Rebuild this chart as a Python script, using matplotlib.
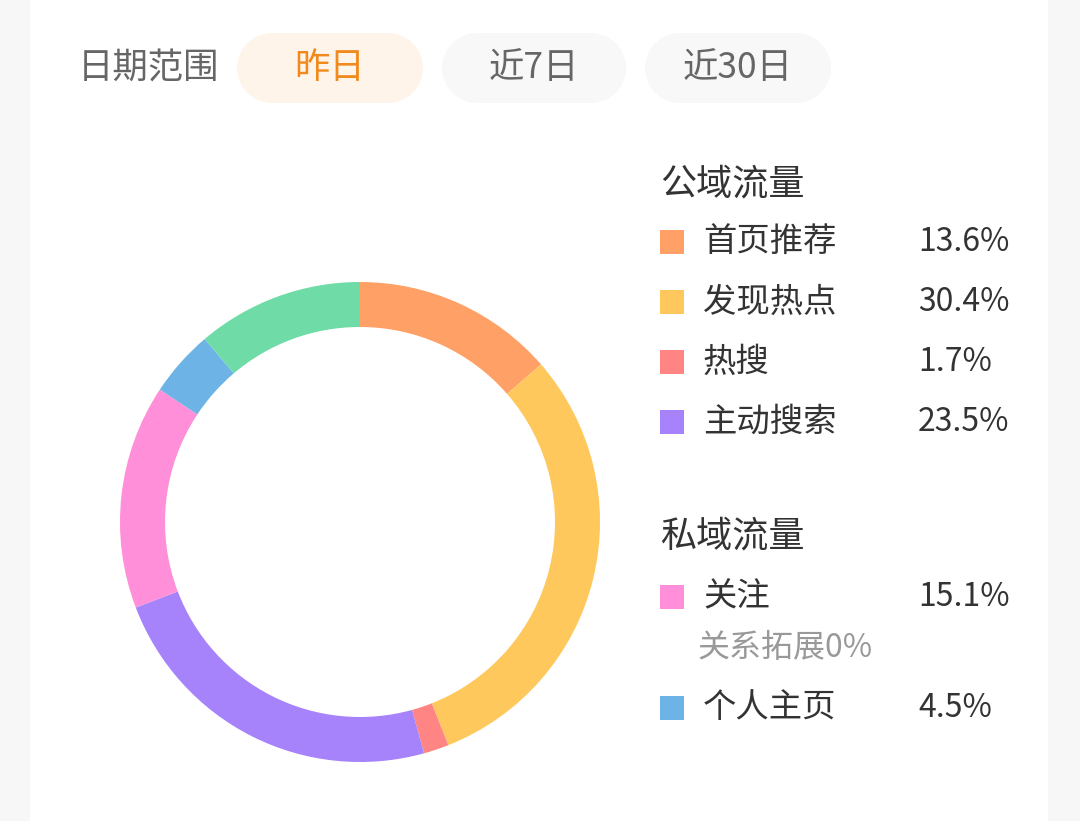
import matplotlib
matplotlib.use("Agg")
import matplotlib.pyplot as plt
from matplotlib.patches import Rectangle, Circle

plt.rcParams['font.family'] = ['Noto Sans CJK SC', 'DejaVu Sans']

# ---- data ----
date_label = "日期范围"
date_options = ["昨日", "近7日", "近30日"]
public_title = "公域流量"
private_title = "私域流量"
public_labels = ["首页推荐", "发现热点", "热搜", "主动搜索"]
public_values = [13.6, 30.4, 1.7, 23.5]
private_labels = ["关注", "个人主页"]
private_values = [15.1, 4.5]
sub_note = "关系拓展0%"
other_value = 11.2  # remaining (green) segment
public_colors = ["#FFA066", "#FFC85C", "#FF8585", "#A682FB"]
private_colors = ["#FF8FD8", "#6DB3E6"]
other_color = "#6FDBA7"

W, H = 1080, 821
fig = plt.figure(figsize=(W / 100, H / 100), dpi=100)
fig.patch.set_facecolor("#F7F7F7")

bg = fig.add_axes([0, 0, 1, 1])
bg.set_xlim(0, W)
bg.set_ylim(H, 0)
bg.set_aspect("equal")
bg.axis("off")
bg.add_patch(Rectangle((30, -10), 1018, H + 20, facecolor="white", edgecolor="none"))

# header
bg.text(78, 68, date_label, fontsize=25.5, color="#666666", va="center", ha="left")
pills = [(237, 423), (442, 626), (645, 831)]
py0, ph = 33, 70
rr = ph / 2
for i, ((x0, x1), lab) in enumerate(zip(pills, date_options)):
    fc = "#FFF4EA" if i == 0 else "#F8F8F8"
    tc = "#F08A1C" if i == 0 else "#666666"
    bg.add_patch(Rectangle((x0 + rr, py0), (x1 - x0) - 2 * rr, ph, facecolor=fc, edgecolor="none"))
    bg.add_patch(Circle((x0 + rr, py0 + rr), rr, facecolor=fc, edgecolor="none"))
    bg.add_patch(Circle((x1 - rr, py0 + rr), rr, facecolor=fc, edgecolor="none"))
    bg.text((x0 + x1) / 2, 68, lab, fontsize=25.5, color=tc, va="center", ha="center",
            fontweight="medium" if i == 0 else "normal")

# legend
def legend_block(title, ty, labels, values, colors, row_y):
    bg.text(660, ty, title, fontsize=26, color="#333333", va="center", ha="left",
            fontweight="medium")
    for lab, val, col, y in zip(labels, values, colors, row_y):
        bg.add_patch(Rectangle((660, y - 12), 24, 24, facecolor=col, edgecolor="none"))
        bg.text(703, y, lab, fontsize=24, color="#333333", va="center", ha="left")
        bg.text(918, y, f"{val}%", fontsize=23, color="#333333", va="center", ha="left")

legend_block(public_title, 184, public_labels, public_values, public_colors,
             [242, 302, 362, 422])
legend_block(private_title, 537, private_labels, private_values, private_colors,
             [597, 708])
bg.text(697, 648, sub_note, fontsize=23, color="#999999", va="center", ha="left")

# donut
cx, cy, r = 360, 522, 240
pax = fig.add_axes([(cx - r) / W, (H - cy - r) / H, 2 * r / W, 2 * r / H])
vals = public_values + private_values + [other_value]
cols = public_colors + private_colors + [other_color]
pax.pie(vals, colors=cols, startangle=90, counterclock=False, radius=1,
        wedgeprops=dict(width=45 / 240, edgecolor="none", linewidth=0))
pax.set_xlim(-1, 1)
pax.set_ylim(-1, 1)
pax.set_aspect("equal")
pax.axis("off")

fig.savefig("out.png", dpi=100, facecolor=fig.get_facecolor())
